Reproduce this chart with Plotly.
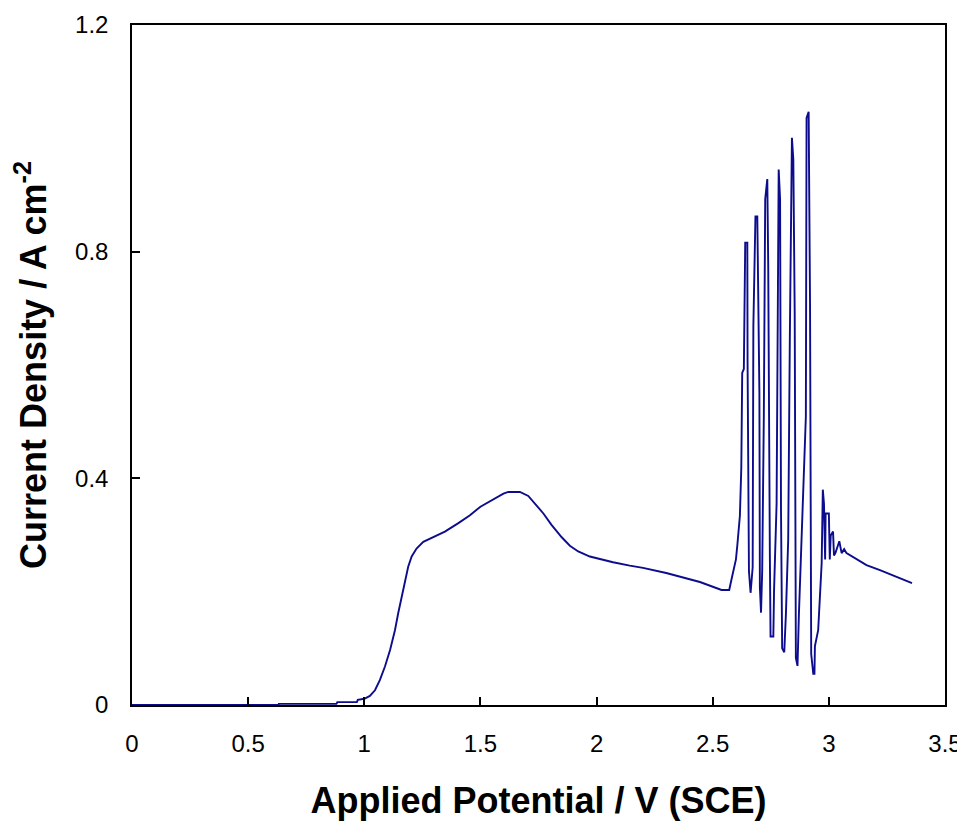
import plotly.graph_objects as go

potential = [
    0.000, 0.630, 0.632, 0.880, 0.884, 0.968, 0.972, 1.000, 1.024, 1.046,
    1.067, 1.089, 1.111, 1.132, 1.146, 1.161, 1.175, 1.189, 1.204, 1.225,
    1.254, 1.297, 1.347, 1.405, 1.455, 1.500, 1.556, 1.599, 1.620, 1.670,
    1.706, 1.735, 1.771, 1.806, 1.850, 1.885, 1.921, 1.971, 2.029, 2.071,
    2.143, 2.200, 2.300, 2.400, 2.445, 2.538, 2.571, 2.581, 2.600, 2.606,
    2.617, 2.623, 2.627, 2.634, 2.636, 2.640, 2.649,
    2.650, 2.656, 2.663,
    2.672, 2.675, 2.684, 2.692,
    2.701, 2.703, 2.708,
    2.713, 2.720, 2.726, 2.735,
    2.739, 2.746, 2.749, 2.761,
    2.764, 2.775, 2.780, 2.784,
    2.790, 2.794, 2.799, 2.808,
    2.815, 2.825, 2.832, 2.841, 2.847,
    2.853, 2.858, 2.865,
    2.871, 2.882, 2.901, 2.904, 2.913,
    2.919, 2.924, 2.933, 2.938,
    2.940, 2.954, 2.969, 2.974,
    2.979, 2.982, 2.984, 2.986, 3.000, 3.004, 3.008, 3.018, 3.022, 3.028,
    3.045, 3.055, 3.066, 3.076, 3.105, 3.162, 3.220, 3.277, 3.358,
]
current = [
    0.000, 0.000, 0.002, 0.002, 0.005, 0.005, 0.009, 0.011, 0.016, 0.026,
    0.044, 0.068, 0.097, 0.132, 0.162, 0.191, 0.220, 0.244, 0.262, 0.276,
    0.288, 0.296, 0.306, 0.321, 0.335, 0.350, 0.363, 0.373, 0.376, 0.376,
    0.369, 0.356, 0.338, 0.318, 0.296, 0.281, 0.271, 0.262, 0.256, 0.252,
    0.246, 0.242, 0.233, 0.222, 0.217, 0.203, 0.203, 0.222, 0.257, 0.282,
    0.334, 0.418, 0.586, 0.593, 0.732, 0.816, 0.816,
    0.607, 0.236, 0.198,
    0.243, 0.669, 0.862, 0.862,
    0.551, 0.208, 0.163,
    0.236, 0.509, 0.893, 0.928,
    0.774, 0.264, 0.121, 0.121,
    0.201, 0.355, 0.795, 0.945,
    0.893, 0.341, 0.100, 0.093,
    0.159, 0.292, 0.648, 1.001, 0.963,
    0.690, 0.083, 0.069,
    0.159, 0.285, 0.509, 1.036, 1.047,
    0.704, 0.090, 0.055, 0.055,
    0.104, 0.132, 0.250, 0.380,
    0.355, 0.257, 0.257, 0.338, 0.338, 0.257, 0.299, 0.306, 0.264, 0.268,
    0.289, 0.268, 0.275, 0.268, 0.261, 0.247, 0.238, 0.229, 0.215,
]

x_ticks = [0, 0.5, 1, 1.5, 2, 2.5, 3, 3.5]
x_labels = ["0", "0.5", "1", "1.5", "2", "2.5", "3", "3.5"]
y_ticks = [0, 0.4, 0.8, 1.2]
y_labels = ["0", "0.4", "0.8", "1.2"]

fig = go.Figure()
fig.add_trace(go.Scatter(
    x=potential, y=current, mode="lines",
    line=dict(color="#0c0c8c", width=1.9),
    showlegend=False, hoverinfo="skip",
))

font_family = "Liberation Sans, Arial, sans-serif"
# the page body adds an 8px offset, so margins are reduced accordingly
fig.update_layout(
    width=965, height=822,
    margin=dict(l=124, r=28, t=17, b=125),
    paper_bgcolor="white", plot_bgcolor="white",
    font=dict(family=font_family, color="black"),
)
fig.update_xaxes(
    range=[0, 3.5], tickvals=x_ticks, ticktext=x_labels,
    ticks="inside", ticklen=8, tickwidth=1.5, tickcolor="black",
    showline=True, linecolor="black", linewidth=1.5, mirror=True,
    showgrid=False, zeroline=False, automargin=False,
    tickfont=dict(size=24, family=font_family),
    ticklabelstandoff=16,
    title=dict(text="<b>Applied Potential / V (SCE)</b>",
               font=dict(size=36, family=font_family), standoff=32),
)
fig.update_yaxes(
    range=[0, 1.2], tickvals=y_ticks, ticktext=y_labels,
    ticks="inside", ticklen=8, tickwidth=1.5, tickcolor="black",
    showline=True, linecolor="black", linewidth=1.5, mirror=True,
    showgrid=False, zeroline=False, automargin=False,
    tickfont=dict(size=24, family=font_family),
    ticklabelstandoff=17,
    title=dict(text="<b>Current Density / A cm<sup>-2</sup></b>",
               font=dict(size=36, family=font_family), standoff=23),
)

fig.write_html("out.html")
